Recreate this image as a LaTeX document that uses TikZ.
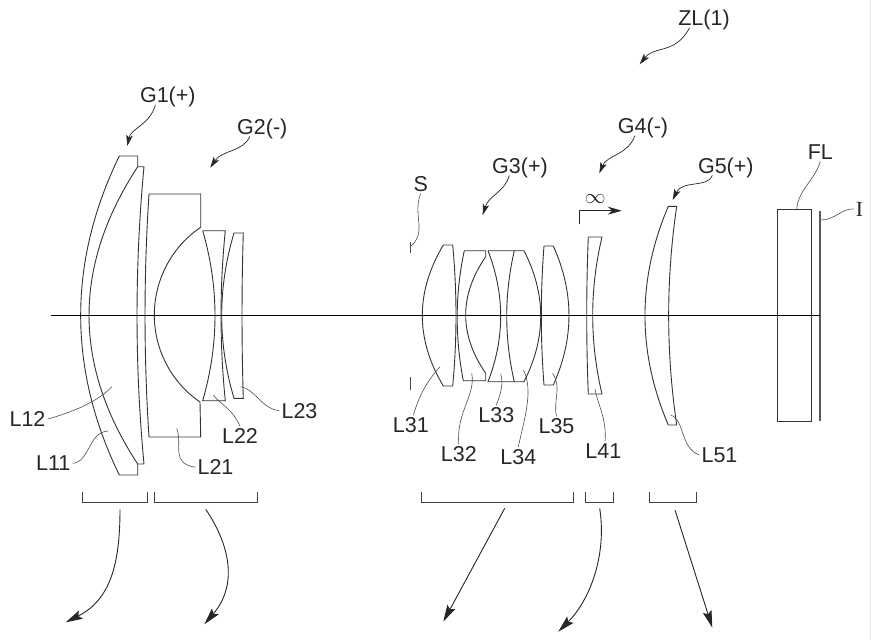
\documentclass[tikz,border=0pt]{standalone}
\usepackage{fontspec}
\setmainfont{Liberation Sans}
\newfontfamily\planefont{Liberation Serif}
\usetikzlibrary{arrows.meta}
\tikzset{
    lens/.style={draw=black!80,line width=0.9pt,line join=miter},
    lbl/.style={inner sep=2pt,text height=15pt,text depth=0pt,text=black!85,font=\fontsize{21.5}{24}\selectfont},
    leader/.style={draw=black!70,line width=0.6pt},
    pointer/.style={draw=black!85,line width=0.7pt,-{Stealth[length=11pt,width=6.5pt,inset=2.5pt]}},
    grouparrow/.style={draw=black!85,line width=0.9pt,-{Stealth[length=17pt,width=9pt,inset=3pt]}},
    bracketline/.style={draw=black!75,line width=0.9pt},
}
\begin{document}
\begin{tikzpicture}[x=1pt,y=-1pt]
    \useasboundingbox (0,0) rectangle (871,640);
    \fill[black!12] (869.5,0) rectangle (871,640);
    %group G1
    \draw[lens] (119.3,156) -- (137.7,156) -- (137.7,166.7)
        .. controls (72.8,265.8) and (72.8,365) .. (137.7,464) -- (137.7,475) -- (119.3,475)
        .. controls (67.8,369) and (67.8,262) .. (119.3,156);
    \draw[lens] (137.7,166.7) -- (144,166.7)
        .. controls (134.7,265.8) and (134.7,365) .. (144,464) -- (137.7,464);
    %group G2
    \draw[lens] (149,194) -- (200.7,194) -- (200.7,227.3)
        .. controls (171.6,246.8) and (154.3,280.1) .. (154.3,315)
        .. controls (154.3,349.9) and (171.6,382.6) .. (200,402) -- (200.7,437) -- (149,437)
        .. controls (143.7,356) and (143.7,275) .. (149,194);
    \draw[lens] (202.7,230.7) -- (225.3,230.7)
        .. controls (219.6,287.4) and (219.6,344) .. (225.3,400.7) -- (202.7,400.7)
        .. controls (219.1,344) and (219.1,287.4) .. (202.7,230.7);
    \draw[lens] (234,233) -- (243.3,233)
        .. controls (241.6,288) and (241.6,343) .. (243.3,398.3) -- (234,398.3)
        .. controls (217.6,343) and (217.6,288) .. (234,233);
    %stop S
    \draw[leader] (410,241.7) -- (410,253);
    \draw[leader] (410.7,377) -- (410.7,390);
    %group G3
    \draw[lens] (443.3,245) -- (452.7,245)
        .. controls (457.1,292) and (457.1,339) .. (452.7,386) -- (443.3,386)
        .. controls (415.3,339) and (415.3,292) .. (443.3,245);
    \draw[lens] (464.3,250.7) -- (485.7,250.7) -- (485.7,256.7)
        .. controls (459,295.6) and (459,334.4) .. (485.7,373.3) -- (485.7,380.7) -- (463.3,380.7)
        .. controls (455,337.3) and (455,294) .. (464.3,250.7);
    \draw[lens] (488,250.7) -- (514.3,250.7)
        .. controls (504.2,294.4) and (504.2,338) .. (514.3,381.7) -- (488,381.7)
        .. controls (504.9,338) and (504.9,294.4) .. (488,250.7);
    \draw[lens] (514.3,250.7) -- (524,250.7)
        .. controls (546.3,294.4) and (546.3,338) .. (524,381.7) -- (514.3,381.7);
    \draw[lens] (544,246) -- (553.3,246)
        .. controls (574.2,292.3) and (574.2,338.7) .. (553.3,385) -- (544,385)
        .. controls (540.4,338.7) and (540.4,292.3) .. (544,246);
    %group G4
    \draw[lens] (588.3,237) -- (602,237)
        .. controls (589.6,289.3) and (589.6,341.7) .. (602,394) -- (588.3,394)
        .. controls (586.2,341.7) and (586.2,289.3) .. (588.3,237);
    %group G5
    \draw[lens] (668.3,206.3) -- (676.7,206.3)
        .. controls (666,279.2) and (666,352.1) .. (676.7,425) -- (668.3,425)
        .. controls (637.2,352.1) and (637.2,279.2) .. (668.3,206.3);
    %filter and image plane
    \draw[lens] (777.7,209.3) rectangle (811,421.7);
    \draw[draw=black!65,line width=1.2pt] (820,211) -- (820,420.7);
    %optical axis
    \draw[line width=0.9pt] (51,315) -- (820,315);
    %focus direction
    \node[lbl,text height=9pt] (focus) at (595.3,198.5) {$\infty$};
    \draw[draw=black!85,line width=0.8pt,-{Stealth[length=14pt,width=8pt]}] (579.3,224) -- (579.3,210.7) -- (621.7,210.7);
    %draw labels
    \foreach \name/\txt/\x/\y in {ZL/ZL(1)/704/18, G1/G1(+)/167.8/95, G2/G2(-)/262.3/126.7,
        G3/G3(+)/520/165.7, G4/G4(-)/643/126, G5/G5(+)/725.8/165.7,
        FL/FL/820.3/151.7, S/S/420.7/183.7,
        L11/L11/53.3/463.3, L12/L12/27.5/419, L21/L21/215.5/467.3, L22/L22/240/436, L23/L23/299.5/410.7,
        L31/L31/410.8/425, L32/L32/458.8/454, L33/L33/496.3/415, L34/L34/518.3/456.7, L35/L35/556.5/426,
        L41/L41/603.3/450.7, L51/L51/719.5/455}
        {%
            \node[lbl] (\name) at (\x,\y) {\txt};
        }
    \node[lbl] (I) at (859.5,209) {\planefont I};
    %pointers from the group labels
    \coordinate (ZLtip) at (639.7,64.3);
    \coordinate (G1tip) at (127.3,146);
    \coordinate (G2tip) at (210.3,167.7);
    \coordinate (G3tip) at (482.7,215);
    \coordinate (G4tip) at (599.3,173.3);
    \coordinate (G5tip) at (672.7,200);
    \draw[pointer] (ZL.214) .. controls (675,55) and (655,45) .. (ZLtip);
    \draw[pointer] (G1.218) .. controls (150,125) and (131,128) .. (G1tip);
    \draw[pointer] (G2.218) .. controls (243,152) and (222,150) .. (G2tip);
    \draw[pointer] (G3.222) .. controls (505,192) and (489,195) .. (G3tip);
    \draw[pointer] (G4.230) .. controls (628,155) and (607,155) .. (G4tip);
    \draw[pointer] (G5.216) .. controls (708,188) and (682,180) .. (G5tip);
    %leaders from the lens labels
    \coordinate (L11end) at (108.3,431);
    \coordinate (L12end) at (111.7,386.7);
    \coordinate (L21end) at (176.7,428.3);
    \coordinate (L22end) at (213.3,395);
    \coordinate (L23end) at (240.7,386.7);
    \coordinate (L31end) at (440,366.7);
    \coordinate (L32end) at (471.7,373.3);
    \coordinate (L33end) at (500.7,374);
    \coordinate (L34end) at (523.3,370);
    \coordinate (L35end) at (552.7,373.3);
    \coordinate (L41end) at (595,389.3);
    \coordinate (L51end) at (670.7,415);
    \coordinate (FLend) at (796.7,209.3);
    \coordinate (Iend) at (821,220);
    \coordinate (Send) at (410,247);
    \draw[leader] (L11.east) .. controls (90,462) and (88,432) .. (L11end);
    \draw[leader] (L12.east) .. controls (70,413) and (98,402) .. (L12end);
    \draw[leader] (L21.west) .. controls (170,463) and (183,445) .. (L21end);
    \draw[leader] (L22.north) .. controls (232,408) and (222,406) .. (L22end);
    \draw[leader] (L23.west) .. controls (262,409) and (255,389) .. (L23end);
    \draw[leader] (L31.75) .. controls (419,395) and (428,380) .. (L31end);
    \draw[leader] (L32.north) .. controls (456,412) and (476,395) .. (L32end);
    \draw[leader] (L33.north) .. controls (500,395) and (504,385) .. (L33end);
    \draw[leader] (L34.north) .. controls (524,420) and (534,390) .. (L34end);
    \draw[leader] (L35.north) .. controls (553,400) and (562,388) .. (L35end);
    \draw[leader] (L41.80) .. controls (607,420) and (598,405) .. (L41end);
    \draw[leader] (L51.west) .. controls (680,448) and (685,420) .. (L51end);
    \draw[leader] (FL.south) .. controls (815,180) and (798,190) .. (FLend);
    \draw[leader] (I.west) .. controls (842,208) and (835,220) .. (Iend);
    \draw[leader] (S.south) .. controls (412,215) and (428,232) .. (Send);
    %brackets below the groups
    \foreach \xa/\xb in {82.3/147.7, 154.3/257.7, 421.3/573.7, 585/613.3, 649.3/696}
        {%
            \draw[bracketline] (\xa,491.7) -- (\xa,502.7) -- (\xb,502.7) -- (\xb,491.7);
        }
    %arrows below the brackets
    \coordinate (A1a) at (120,509.3);
    \coordinate (A1b) at (65.7,622.3);
    \coordinate (A2a) at (205.7,509.3);
    \coordinate (A2b) at (204.3,624.3);
    \coordinate (A3a) at (504.7,508.3);
    \coordinate (A3b) at (443.3,621.7);
    \coordinate (A4a) at (599.7,508.3);
    \coordinate (A4b) at (558.3,631.7);
    \coordinate (A5a) at (675,510);
    \coordinate (A5b) at (712.3,627.7);
    \draw[grouparrow] (A1a) .. controls (120,565) and (110,600) .. (A1b);
    \draw[grouparrow] (A2a) .. controls (230,545) and (238,585) .. (A2b);
    \draw[grouparrow] (A3a) -- (A3b);
    \draw[grouparrow] (A4a) .. controls (607,555) and (590,600) .. (A4b);
    \draw[grouparrow] (A5a) -- (A5b);
\end{tikzpicture}
\end{document}
